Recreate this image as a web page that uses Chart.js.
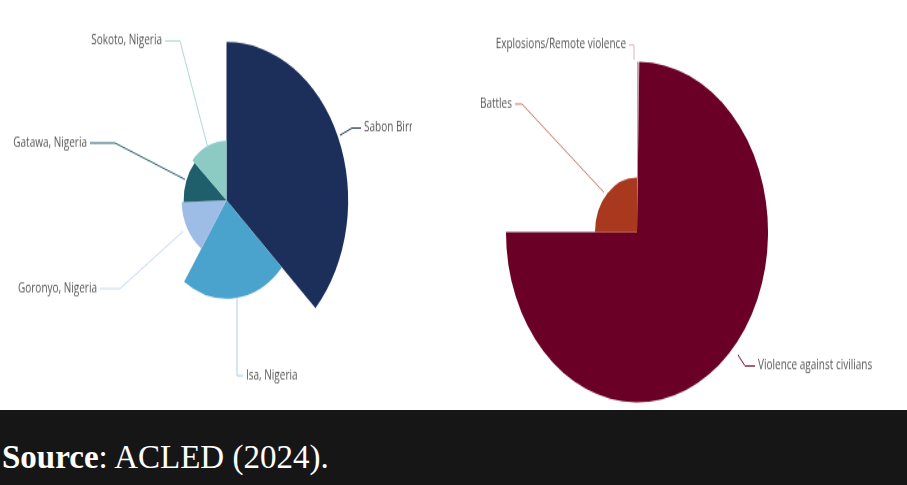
<!DOCTYPE html>
<html>
<head>
<meta charset="utf-8">
<script src="https://cdn.jsdelivr.net/npm/chart.js@4/dist/chart.umd.min.js"></script>
<style>
  html, body { margin: 0; padding: 0; background: #fff; }
  #page { position: relative; width: 907px; height: 485px; overflow: hidden; }
  .wrap { position: absolute; top: 0; height: 315px; transform: scaleY(1.3); transform-origin: top left; }
  #w1 { left: 0; width: 453px; }
  #w2 { left: 453px; width: 454px; }
  #band { position: absolute; left: 0; top: 410px; width: 907px; height: 75px; background: #161616;
          color: #fff; font-family: "Liberation Serif", serif; font-size: 33px; }
  #band span { position: absolute; left: 2px; top: 29px; }
</style>
</head>
<body>
<div id="page">
  <div class="wrap" id="w1"><canvas id="c1" width="453" height="315"></canvas></div>
  <div class="wrap" id="w2"><canvas id="c2" width="454" height="315"></canvas></div>
  <div id="band"><span><b>Source</b>: ACLED (2024).</span></div>
</div>
<script>
// left chart: locations (angle share, radius value)
const locations = ['Sabon Birni', 'Isa, Nigeria', 'Goronyo, Nigeria', 'Gatawa, Nigeria', 'Sokoto, Nigeria'];
const locationShare = [133, 81, 54, 44, 48];
const locationRadius = [122, 76, 45, 43, 46];

// right chart: event types
const eventTypes = ['Explosions/Remote violence', 'Violence against civilians', 'Battles'];
const eventShare = [1, 269, 90];
const eventRadius = [131, 131, 42];

const locationColors = ['#1b2f5a', '#4aa3cc', '#9dbde6', '#1f5f6b', '#8ccbc4'];
const eventColors = ['#c9a0aa', '#6b0026', '#a8391f'];

// leader lines: [x1,y1, x2,y2, x3,y3, align] in canvas px
const locationLabels = [
    [340, 104, 352, 98.5, 361, 98.5, 'left'],
    [237, 229, 237, 289, 243, 289, 'left'],
    [183, 178, 120, 222, 100, 222, 'right'],
    [185, 138, 115, 110, 90, 110, 'right'],
    [208, 114, 180, 31.5, 165, 31.5, 'right']
];
const eventLabels = [
    [181, 46, 181, 34.6, 176, 34.6, 'right'],
    [285, 273, 292, 281.5, 302, 281.5, 'left'],
    [151, 148, 69, 80, 62, 80, 'right']
];
const locationLineColors = ['#1b2f5a', '#a8cfe2', '#c5d8ee', '#1f5f6b', '#a9dad4'];
const eventLineColors = ['#d8b5bd', '#6b0026', '#c47a68'];

const variableRadius = {
    id: 'variableRadius',
    afterDatasetUpdate(chart, args) {
        const meta = args.meta;
        const radii = chart.options.plugins.variableRadius.radii;
        const maxR = Math.max(...radii);
        const outer = meta.controller.outerRadius;
        meta.data.forEach((arc, i) => { arc.outerRadius = outer * radii[i] / maxR; });
    },
    afterDraw(chart) {
        const o = chart.options.plugins.variableRadius;
        const ctx = chart.ctx;
        ctx.save();
        if (o.clipX) { ctx.beginPath(); ctx.rect(0, 0, o.clipX, chart.height); ctx.clip(); }
        ctx.font = '10px "Open Sans"';
        ctx.textBaseline = 'middle';
        chart.data.labels.forEach((name, i) => {
            const l = o.labels[i];
            ctx.strokeStyle = o.lineColors[i];
            ctx.lineWidth = 1;
            ctx.beginPath();
            ctx.moveTo(l[0], l[1]); ctx.lineTo(l[2], l[3]); ctx.lineTo(l[4], l[5]);
            ctx.stroke();
            ctx.fillStyle = '#555';
            ctx.textAlign = l[6];
            ctx.fillText(name, l[4] + (l[6] === 'left' ? 3 : -3), l[5]);
        });
        ctx.restore();
    }
};

function makeChart(id, labels, share, radii, colors, labelPos, lineColors, radius, padding, clipX) {
    return new Chart(document.getElementById(id), {
        type: 'pie',
        data: {
            labels,
            datasets: [{ data: share, backgroundColor: colors, borderWidth: 0 }]
        },
        options: {
            responsive: false,
            animation: false,
            radius,
            layout: { padding },
            plugins: {
                legend: { display: false },
                tooltip: { enabled: false },
                variableRadius: { radii, labels: labelPos, lineColors, clipX }
            }
        },
        plugins: [variableRadius]
    });
}

makeChart('c1', locations, locationShare, locationRadius, locationColors, locationLabels,
    locationLineColors, '79%', { top: 0, bottom: 7 }, 412);
makeChart('c2', eventTypes, eventShare, eventRadius, eventColors, eventLabels,
    eventLineColors, '96%', { left: 0, right: 86, top: 42, bottom: 0 }, null);
</script>
</body>
</html>
